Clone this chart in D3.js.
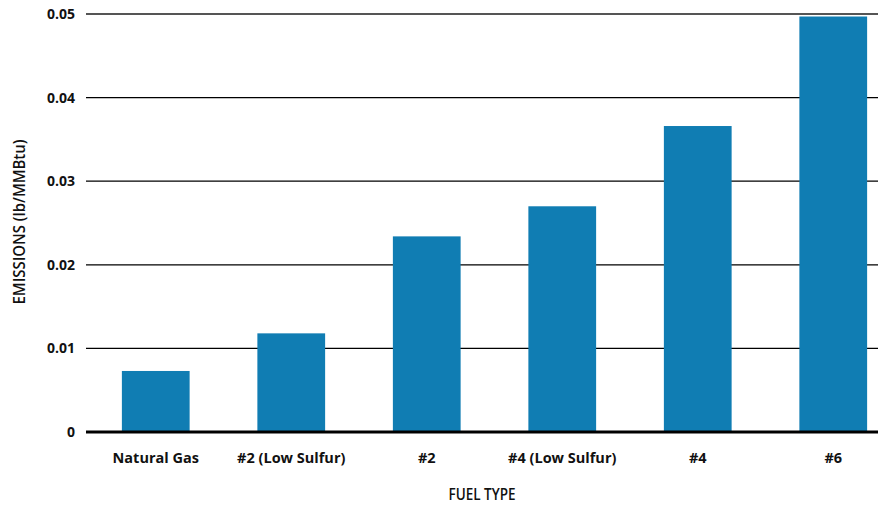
<!DOCTYPE html>
<html><head><meta charset="utf-8">
<script src="https://cdn.jsdelivr.net/npm/d3@7"></script>
<style>
body{margin:0;background:#fff;}
svg{display:block;}
</style></head>
<body>
<svg id="chart" width="878" height="506"></svg>
<script>
const categories = ["Natural Gas", "#2 (Low Sulfur)", "#2", "#4 (Low Sulfur)", "#4", "#6"];
const emissions = [0.0073, 0.0118, 0.0234, 0.0270, 0.0366, 0.0497];
const yTicks = [0, 0.01, 0.02, 0.03, 0.04, 0.05];
const yTickLabels = ["0", "0.01", "0.02", "0.03", "0.04", "0.05"];
const xTitle = "FUEL TYPE";
const yTitle = "EMISSIONS (lb/MMBtu)";

const svg = d3.select("#chart");
const plotLeft = 86, plotRight = 878, plotTop = 14, plotBottom = 432;

const y = d3.scaleLinear().domain([0, 0.05]).range([plotBottom, plotTop]);
const x = d3.scaleBand().domain(categories).range([88, 901]).paddingInner(0.5).paddingOuter(0.25);

// gridlines
svg.append("g").selectAll("line").data(yTicks.filter(d => d > 0)).join("line")
  .attr("x1", plotLeft).attr("x2", plotRight)
  .attr("y1", d => y(d)).attr("y2", d => y(d))
  .attr("stroke", d => d === 0.05 ? "#555" : "#000")
  .attr("stroke-width", d => d === 0.05 ? 2 : 1.3);

// bars
svg.append("g").selectAll("rect").data(categories).join("rect")
  .attr("x", d => x(d)).attr("width", x.bandwidth())
  .attr("y", (d, i) => y(emissions[i]))
  .attr("height", (d, i) => y(0) - y(emissions[i]))
  .attr("fill", "#107db3");

// zero line
svg.append("line").attr("x1", plotLeft).attr("x2", plotRight)
  .attr("y1", y(0)).attr("y2", y(0)).attr("stroke", "#000").attr("stroke-width", 3);

// y tick labels
svg.append("g").selectAll("text").data(yTicks).join("text")
  .attr("x", 75).attr("y", d => y(d)).attr("dy", "0.36em")
  .attr("text-anchor", "end")
  .attr("font-family", "'Open Sans', sans-serif").attr("font-weight", "bold").attr("font-size", 14)
  .attr("fill", "#111")
  .text((d, i) => yTickLabels[i]);

// x category labels
svg.append("g").selectAll("text").data(categories).join("text")
  .attr("x", d => x(d) + x.bandwidth() / 2).attr("y", 463)
  .attr("text-anchor", "middle")
  .attr("font-family", "'Open Sans', sans-serif").attr("font-weight", "bold").attr("font-size", 14.5)
  .attr("fill", "#111")
  .text(d => d);

// axis titles
svg.append("text").attr("x", 482).attr("y", 500).attr("text-anchor", "middle")
  .attr("font-family", "'Open Sans', sans-serif")
  .attr("font-size", 15.5).attr("font-weight", 600).attr("fill", "#111")
  .attr("textLength", 67).attr("lengthAdjust", "spacingAndGlyphs")
  .text(xTitle);

svg.append("text").attr("transform", "translate(25,222) rotate(-90)").attr("text-anchor", "middle")
  .attr("font-family", "'Open Sans', sans-serif")
  .attr("font-size", 15.5).attr("font-weight", 600).attr("fill", "#111")
  .attr("textLength", 165).attr("lengthAdjust", "spacingAndGlyphs")
  .text(yTitle);
</script>
</body></html>
